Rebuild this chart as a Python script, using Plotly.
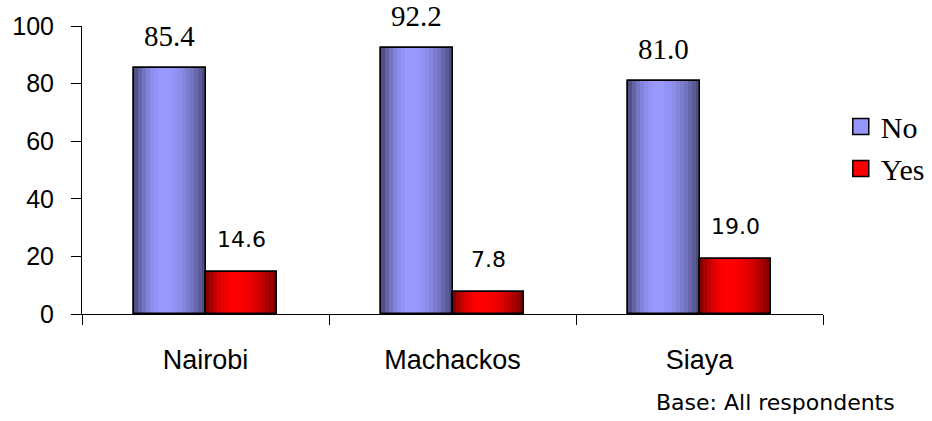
import plotly.graph_objects as go

# Data
regions = ["Nairobi", "Machackos", "Siaya"]
no_pct = [85.4, 92.2, 81.0]
yes_pct = [14.6, 7.8, 19.0]
y_ticks = [0, 20, 40, 60, 80, 100]

BAR_W = 0.2875      # width of one bar, in category units
N_STRIPS = 18       # vertical strips used to shade each bar


def shade(rgb, t, peak=0.4, depth=0.55):
    """Colour of a strip at relative position t (0 = left edge, 1 = right edge)."""
    span = peak if t < peak else 1 - peak
    k = 1 - depth * ((t - peak) / span) ** 2
    return "rgb({},{},{})".format(*(int(round(c * k)) for c in rgb))


series = [
    dict(name="No", values=no_pct, rgb=(153, 153, 255), offset=-BAR_W,
         label_font=dict(family="Liberation Serif, Times New Roman, serif", size=29, color="black"),
         label_shift=14),
    dict(name="Yes", values=yes_pct, rgb=(255, 0, 0), offset=0.0,
         label_font=dict(family="Comic Sans MS, DejaVu Sans, sans-serif", size=22, color="black"),
         label_shift=18),
]

fig = go.Figure()

for s in series:
    # base bar
    fig.add_trace(go.Bar(
        x=regions, y=s["values"], name=s["name"], showlegend=False,
        offset=s["offset"], width=BAR_W,
        marker=dict(color=shade(s["rgb"], 0.4), line=dict(color="black", width=1.5)),
        hoverinfo="skip",
    ))
    # shaded strips giving the cylinder-like look
    sw = BAR_W / N_STRIPS
    for i in range(N_STRIPS):
        t = (i + 0.5) / N_STRIPS
        fig.add_trace(go.Bar(
            x=regions, y=s["values"], showlegend=False,
            offset=s["offset"] + i * sw, width=sw * 1.08,
            marker=dict(color=shade(s["rgb"], t), line=dict(width=0)),
            hoverinfo="skip",
        ))
    # outline drawn on top
    fig.add_trace(go.Bar(
        x=regions, y=s["values"], showlegend=False,
        offset=s["offset"], width=BAR_W,
        marker=dict(color="rgba(0,0,0,0)", line=dict(color="black", width=1.5)),
        hoverinfo="skip",
    ))

# legend entries with larger square swatches
for s in series:
    fig.add_trace(go.Scatter(
        x=[None], y=[None], mode="markers", name=s["name"], legendgroup=s["name"],
        marker=dict(symbol="square", size=16, color=shade(s["rgb"], 0.55, depth=0.3),
                    line=dict(color="black", width=1.5)),
        hoverinfo="skip",
    ))

# value labels above each bar
annotations = []
for s in series:
    for i, v in enumerate(s["values"]):
        annotations.append(dict(
            x=i + s["offset"] + BAR_W / 2, y=v, xref="x", yref="y",
            text=f"{v:.1f}", showarrow=False, yanchor="bottom",
            yshift=s["label_shift"], font=s["label_font"],
        ))

annotations.append(dict(
    x=1.100, y=-0.3056, xref="paper", yref="paper", xanchor="right", yanchor="middle",
    text="Base: All respondents", showarrow=False,
    font=dict(family="Comic Sans MS, DejaVu Sans, sans-serif", size=22, color="black"),
))

fig.update_layout(
    width=932, height=421,
    margin=dict(l=82, r=109, t=26, b=107, autoexpand=False),
    paper_bgcolor="white", plot_bgcolor="white",
    barmode="overlay",
    bargap=0,
    showlegend=True,
    legend=dict(
        x=1.024, y=0.578, xanchor="left", yanchor="middle",
        font=dict(family="Liberation Serif, Times New Roman, serif", size=30, color="black"),
        tracegroupgap=10, traceorder="normal", itemsizing="trace",
        bgcolor="rgba(0,0,0,0)",
    ),
    annotations=annotations,
)

fig.update_xaxes(
    type="category", showline=True, linecolor="black", linewidth=1,
    ticks="outside", tickson="boundaries", ticklen=10, tickcolor="black",
    tickfont=dict(family="Liberation Sans, Arial, sans-serif", size=27, color="black"),
    ticklabelstandoff=22, showgrid=False, zeroline=False,
)
fig.update_yaxes(
    range=[0, 100], tickvals=y_ticks, showline=True, linecolor="black", linewidth=1,
    ticks="outside", ticklen=10, tickcolor="black",
    tickfont=dict(family="Liberation Sans, Arial, sans-serif", size=25, color="black"),
    ticklabelstandoff=12, showgrid=False, zeroline=False,
)

fig.write_html("out.html")
